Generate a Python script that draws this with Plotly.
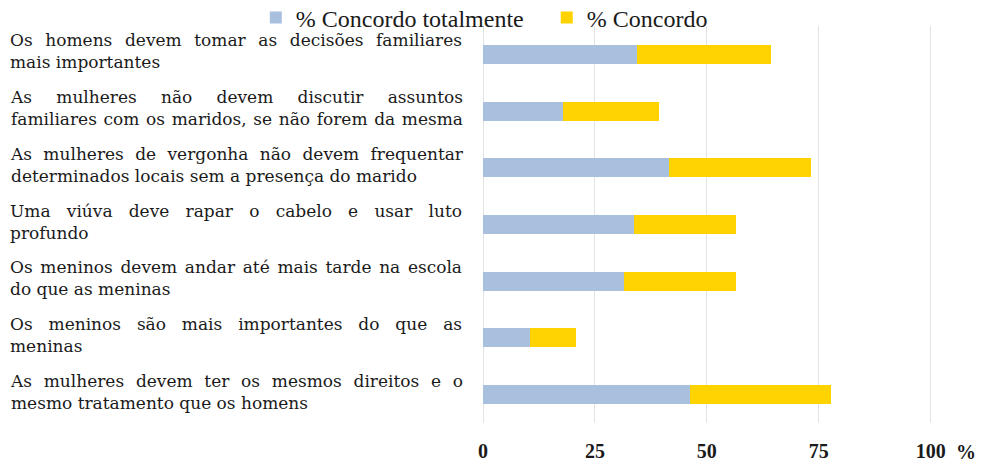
import plotly.graph_objects as go

# Survey statements (top to bottom) and agreement percentages
statements = [
    "Os homens devem tomar as decisões familiares<br>mais importantes",
    "As mulheres não devem discutir assuntos<br>familiares com os maridos, se não forem da mesma",
    "As mulheres de vergonha não devem frequentar<br>determinados locais sem a presença do marido",
    "Uma viúva deve rapar o cabelo e usar luto<br>profundo",
    "Os meninos devem andar até mais tarde na escola<br>do que as meninas",
    "Os meninos são mais importantes do que as<br>meninas",
    "As mulheres devem ter os mesmos direitos e o<br>mesmo tratamento que os homens",
]
concordo_totalmente = [34.5, 17.9, 41.6, 33.7, 31.4, 10.5, 46.3]
concordo = [29.8, 21.5, 31.7, 22.8, 25.2, 10.2, 31.4]

series_names = ["% Concordo totalmente", "% Concordo"]

tick_vals = [0, 25, 50, 75, 100]
tick_text = ["0", "25", "50", "75", "100"]

cats = [f"s{i}" for i in range(len(statements))]

BLUE = "#A8C0DE"
YELLOW = "#FFD300"
TEXT = "#1a1a1a"
LABEL_WIDTH = 452  # width of the justified statement column, px

fig = go.Figure()
fig.add_trace(go.Bar(
    y=cats, x=concordo_totalmente, orientation="h",
    name=series_names[0] + "&nbsp;&nbsp;&nbsp;",
    marker=dict(color=BLUE, line=dict(width=0)),
))
fig.add_trace(go.Bar(
    y=cats, x=concordo, orientation="h",
    name=series_names[1],
    marker=dict(color=YELLOW, line=dict(width=0)),
))

# Statement labels, left aligned in the left margin (justified after render)
for c, s in zip(cats, statements):
    fig.add_annotation(
        x=-1.058, xref="paper", y=c, yref="y", yshift=3,
        text=s, showarrow=False, name="statement",
        xanchor="left", yanchor="middle", align="left",
        font=dict(family="DejaVu Serif", size=17, color=TEXT),
    )

# Percent sign after the last tick
fig.add_annotation(
    x=100, xref="x", y=0, yref="paper", yanchor="top", xanchor="left",
    yshift=-16, xshift=23, text="%", showarrow=False,
    font=dict(family="Liberation Serif", size=20, color=TEXT, weight="bold"),
)

fig.update_layout(
    width=983, height=463,
    margin=dict(l=483, r=51, t=26, b=40, autoexpand=False),
    paper_bgcolor="white", plot_bgcolor="white",
    barmode="stack", bargap=0.665,
    showlegend=True,
    legend=dict(
        orientation="h", x=-0.506, xanchor="left",
        y=1 - 18 / 463, yref="container", yanchor="middle",
        font=dict(family="Liberation Serif", size=24, color=TEXT),
        itemwidth=30, tracegroupgap=0, traceorder="normal",
        bgcolor="rgba(0,0,0,0)",
    ),
    xaxis=dict(
        range=[0, 100.3], tickvals=tick_vals, ticktext=tick_text,
        showgrid=True, gridcolor="#E3E3E3", gridwidth=1,
        zeroline=True, zerolinecolor="#E3E3E3", zerolinewidth=1,
        showline=False, ticks="",
        tickfont=dict(family="Liberation Serif", size=20, color=TEXT, weight="bold"),
        ticklabelstandoff=14,
    ),
    yaxis=dict(
        categoryorder="array", categoryarray=cats, autorange="reversed",
        showticklabels=False, showgrid=False, zeroline=False, ticks="",
    ),
)

# Justify the statement lines (first lines, and any long continuation line)
# by widening the word spacing up to the column width
justify_js = """
var gd = document.getElementById('{plot_id}');
var target = %d;
gd.querySelectorAll('.annotation-text').forEach(function (t) {
    var lines = t.querySelectorAll('tspan.line');
    if (lines.length < 2) { return; }
    lines.forEach(function (ln, i) {
        var txt = ln.textContent.trim();
        var gaps = (txt.match(/ +/g) || []).length;
        var w = ln.getComputedTextLength();
        var minFrac = (i === 0) ? 0.7 : 0.9;
        if (gaps > 0 && w > minFrac * target && w < target) {
            ln.style.wordSpacing = ((target - w) / gaps) + 'px';
        }
    });
});
""" % LABEL_WIDTH

fig.write_html("out.html", post_script=justify_js)
